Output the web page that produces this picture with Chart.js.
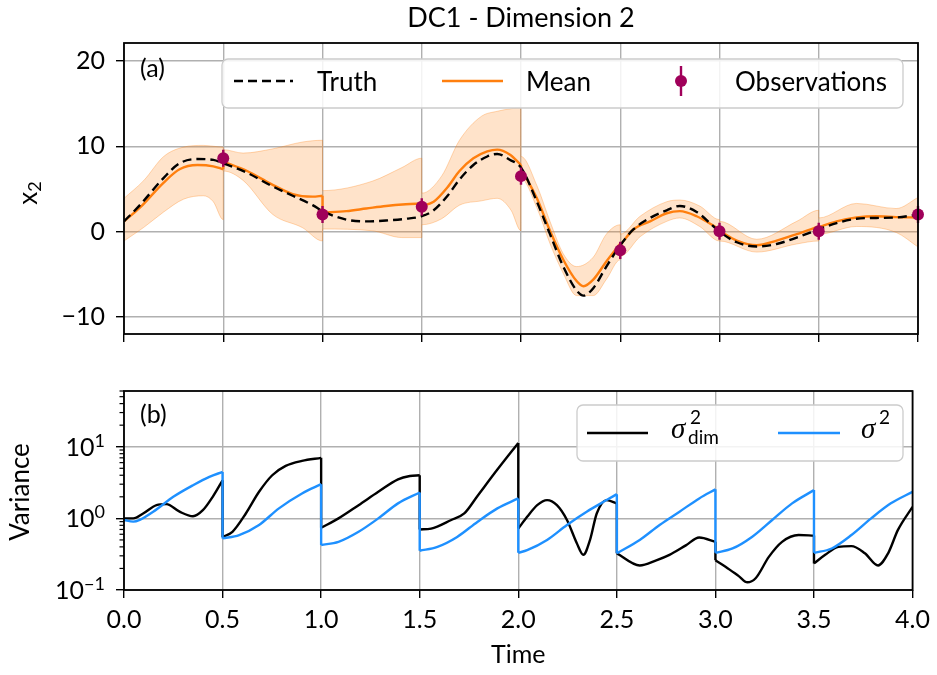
<!DOCTYPE html>
<html>
<head>
<meta charset="utf-8">
<script src="https://cdn.jsdelivr.net/npm/chart.js@4"></script>
<style>
  body { margin: 0; background: #fff; }
  #wrap { position: relative; width: 937px; height: 675px; background: #fff; }
  canvas { position: absolute; left: 0; }
</style>
</head>
<body>
<div id="wrap">
  <canvas id="topChart" width="937" height="360" style="top:0"></canvas>
  <canvas id="bottomChart" width="937" height="315" style="top:360px"></canvas>
</div>
<script>
// ---- panel (a): state x2 ----
const truthTime = [0, 0.08, 0.2, 0.28, 0.37, 0.45, 0.5, 0.62, 0.74, 0.85, 0.95, 1.0, 1.12, 1.22, 1.32, 1.42, 1.5,
  1.56, 1.63, 1.69, 1.76, 1.83, 1.88, 1.945, 2.0, 2.08, 2.146, 2.213, 2.28, 2.315, 2.365, 2.43, 2.5,
  2.566, 2.65, 2.734, 2.8, 2.885, 3.0, 3.087, 3.187, 3.288, 3.389, 3.5, 3.59, 3.69, 3.79, 3.89, 4.0];
const truthValues = [1.2, 3.1, 6.3, 8.0, 8.5, 8.4, 8.0, 6.9, 5.4, 4.2, 3.1, 2.4, 1.4, 1.2, 1.3, 1.5, 1.8,
  2.5, 4.2, 6.1, 7.8, 8.8, 9.1, 8.4, 7.5, 3.5, -0.3, -4.1, -6.9, -7.5, -6.6, -4.1, -1.6,
  0.25, 1.6, 2.5, 3.0, 2.3, 0.0, -1.25, -1.75, -1.45, -0.7, 0.26, 1.0, 1.5, 1.6, 1.65, 2.0];

// repeated times mark the analysis jumps
const meanTime = [0, 0.08, 0.2, 0.28, 0.37, 0.45, 0.5, 0.5, 0.62, 0.74, 0.85, 0.95, 1.0, 1.0, 1.12, 1.22, 1.32, 1.42, 1.5,
  1.5, 1.56, 1.63, 1.69, 1.76, 1.83, 1.88, 1.945, 2.0, 2.0, 2.08, 2.146, 2.213, 2.28, 2.315, 2.365, 2.43, 2.5,
  2.5, 2.566, 2.65, 2.734, 2.8, 2.885, 3.0, 3.0, 3.087, 3.187, 3.288, 3.389, 3.5, 3.5, 3.59, 3.69, 3.79, 3.89, 4.0];
const meanValues = [1.2, 2.8, 5.75, 7.3, 7.8, 7.65, 7.3, 8.2, 7.1, 5.6, 4.4, 4.1, 4.2, 2.2, 2.4, 2.7, 3.0, 3.2, 3.3,
  3.0, 3.5, 5.2, 7.1, 8.6, 9.4, 9.6, 9.0, 7.8, 7.4, 3.9, 0.1, -3.3, -5.8, -6.4, -5.6, -3.5, -1.4,
  -1.6, 0.25, 1.2, 2.15, 2.4, 1.8, 0.25, 0.1, -1.05, -1.6, -1.05, -0.3, 0.6, 0.5, 1.2, 1.65, 1.8, 1.7, 1.65];

const obsTime = [0.5, 1.0, 1.5, 2.0, 2.5, 3.0, 3.5, 4.0];
const obsValues = [8.6, 2.0, 2.9, 6.5, -2.2, 0.05, 0.05, 2.0];
const obsError = [1, 1, 1, 1, 1, 1, 1, 1];

const bandTime = [0, 0.1, 0.2, 0.3, 0.4, 0.45, 0.5, 0.5, 0.6, 0.75, 0.9, 1.0, 1.0, 1.25, 1.4, 1.5,
  1.5, 1.6, 1.69, 1.8, 1.88, 1.95, 2.0, 2.0, 2.08, 2.146, 2.213, 2.28, 2.364, 2.43, 2.5,
  2.5, 2.6, 2.734, 2.8, 2.9, 3.0, 3.0, 3.187, 3.389, 3.5, 3.5, 3.69, 3.89, 4.0];
const bandUpper = [3.9, 6.0, 8.8, 9.9, 10.1, 10.0, 9.9, 9.6, 9.2, 9.7, 10.5, 10.7, 4.8, 5.9, 7.5, 8.6,
  4.5, 6.5, 10.7, 13.5, 14.1, 14.4, 14.5, 8.8, 5.4, 1.2, -2.6, -4.1, -3.0, -0.3, 0.8,
  -0.3, 1.8, 3.5, 3.7, 3.0, 1.4, 1.2, -0.9, 1.2, 2.5, 1.6, 3.3, 2.7, 4.0];
const bandLower = [-1.1, 0.5, 2.3, 3.8, 4.2, 3.5, 1.4, 7.1, 6.0, 2.0, 0.45, -1.1, 0.3, 0.1, -0.7, -0.7,
  0.8, 1.5, 3.1, 3.6, 3.9, 2.5, 0.1, 6.2, 2.8, -1.4, -4.9, -7.5, -7.5, -5.6, -3.3,
  -2.9, -0.6, 1.2, 1.6, 0.6, -1.1, -1.1, -2.4, -1.45, -1.1, -0.3, 0.6, -0.1, -1.8];

const xTicks = [0, 0.5, 1.0, 1.5, 2.0, 2.5, 3.0, 3.5, 4.0];
const topYTicks = [-10, 0, 10, 20];

// ---- panel (b): variances ----
const dimTime = [0, 0.047, 0.097, 0.165, 0.215, 0.282, 0.35, 0.4, 0.45, 0.5,
  0.5, 0.55, 0.618, 0.685, 0.752, 0.82, 0.903, 1.0,
  1.0, 1.088, 1.19, 1.29, 1.39, 1.45, 1.5,
  1.5, 1.558, 1.66, 1.726, 1.794, 1.894, 2.0,
  2.0, 2.045, 2.096, 2.146, 2.196, 2.247, 2.297, 2.33, 2.364, 2.398, 2.448, 2.5,
  2.5, 2.616, 2.7, 2.767, 2.85, 2.918, 3.0,
  3.0, 3.053, 3.12, 3.162, 3.204, 3.271, 3.338, 3.422, 3.5,
  3.5, 3.557, 3.624, 3.69, 3.758, 3.825, 3.876, 3.926, 4.0];
const dimVar = [1.0, 1.0, 1.17, 1.53, 1.58, 1.24, 1.07, 1.3, 2.0, 3.4,
  0.55, 0.65, 1.17, 2.35, 4.0, 5.4, 6.35, 7.0,
  0.74, 1.0, 1.53, 2.35, 3.5, 3.9, 4.0,
  0.70, 0.72, 0.95, 1.17, 2.07, 4.8, 11.3,
  0.72, 1.05, 1.53, 1.8, 1.53, 0.95, 0.45, 0.31, 0.5, 1.17, 1.8, 1.62,
  0.325, 0.22, 0.26, 0.31, 0.42, 0.54, 0.47,
  0.26, 0.21, 0.155, 0.128, 0.146, 0.29, 0.47, 0.585, 0.575,
  0.235, 0.31, 0.40, 0.41, 0.325, 0.22, 0.325, 0.69, 1.45];

const sigTime = [0, 0.047, 0.148, 0.25, 0.35, 0.433, 0.5,
  0.5, 0.584, 0.685, 0.786, 0.903, 1.0,
  1.0, 1.088, 1.19, 1.29, 1.39, 1.5,
  1.5, 1.59, 1.69, 1.794, 1.894, 2.0,
  2.0, 2.045, 2.146, 2.247, 2.347, 2.448, 2.5,
  2.5, 2.616, 2.717, 2.818, 2.918, 3.0,
  3.0, 3.087, 3.187, 3.288, 3.389, 3.5,
  3.5, 3.59, 3.69, 3.79, 3.89, 4.0];
const sigVar = [0.95, 0.9, 1.24, 2.0, 2.9, 3.8, 4.45,
  0.525, 0.585, 0.81, 1.38, 2.23, 3.0,
  0.425, 0.47, 0.65, 1.0, 1.62, 2.3,
  0.353, 0.40, 0.55, 0.9, 1.38, 1.9,
  0.33, 0.36, 0.5, 0.81, 1.24, 1.8, 2.18,
  0.325, 0.5, 0.81, 1.24, 1.9, 2.54,
  0.33, 0.38, 0.555, 0.95, 1.62, 2.48,
  0.33, 0.38, 0.585, 1.0, 1.62, 2.35];

const varTicks = [0.1, 1, 10];

const ORANGE = '#ff7f0e';
const PEACH = 'rgba(255,127,14,0.22)';
const PEACH_EDGE = 'rgba(255,127,14,0.3)';
const PURPLE = '#a0005a';
const BLUE = '#1e90ff';
const GRID = '#b0b0b0';
const FONT = 'Lato';

Chart.defaults.font.family = FONT;
Chart.defaults.color = '#000';

// split a series at repeated times: smooth pieces + vertical jump segments
function splitAtJumps(times, values) {
  const line = [], jumps = [];
  for (let i = 0; i < times.length; i++) {
    if (i > 0 && times[i] === times[i - 1]) {
      line.push({ x: times[i], y: null });
      jumps.push({ x: times[i], y: values[i - 1] }, { x: times[i], y: values[i] }, { x: times[i], y: null });
    }
    line.push({ x: times[i], y: values[i] });
  }
  return { line, jumps };
}

const pts = (t, v) => t.map((x, i) => ({ x, y: v[i] }));

function spines(chart) {
  const a = chart.chartArea, c = chart.ctx;
  c.save();
  c.strokeStyle = '#000';
  c.lineWidth = 1.8;
  c.strokeRect(a.left, a.top, a.right - a.left, a.bottom - a.top);
  c.restore();
}

function legendBox(c, x, y, w, h) {
  c.save();
  c.beginPath();
  c.roundRect(x, y, w, h, 6);
  c.fillStyle = 'rgba(255,255,255,0.85)';
  c.fill();
  c.strokeStyle = '#cccccc';
  c.lineWidth = 1.3;
  c.stroke();
  c.restore();
}

function hline(c, x1, x2, y, color, dash) {
  c.save();
  c.strokeStyle = color;
  c.lineWidth = 2.4;
  c.setLineDash(dash || []);
  c.beginPath();
  c.moveTo(x1, y);
  c.lineTo(x2, y);
  c.stroke();
  c.restore();
}

function rotatedText(c, parts, cx, cy) {
  // parts: [{text, font, dy}]
  c.save();
  c.translate(cx, cy);
  c.rotate(-Math.PI / 2);
  c.textBaseline = 'middle';
  c.fillStyle = '#000';
  let w = 0;
  parts.forEach(p => { c.font = p.font; p.w = c.measureText(p.text).width; w += p.w; });
  let x = -w / 2;
  parts.forEach(p => { c.font = p.font; c.fillText(p.text, x, p.dy || 0); x += p.w; });
  c.restore();
}

const topDecor = {
  id: 'topDecor',
  afterDraw(chart) {
    const c = chart.ctx;
    spines(chart);
    c.save();
    c.fillStyle = '#000';
    c.font = '27px ' + FONT;
    c.textAlign = 'center';
    c.textBaseline = 'middle';
    c.fillText('DC1 - Dimension 2', (chart.chartArea.left + chart.chartArea.right) / 2, 18);
    c.font = '25px ' + FONT;
    c.textAlign = 'left';
    c.fillText('(a)', 140, 69);
    c.restore();
    rotatedText(c, [{ text: 'x', font: '26px ' + FONT }, { text: '2', font: '18px ' + FONT, dy: 6 }], 29, 193);

    // legend
    legendBox(c, 222, 59, 681, 49);
    hline(c, 234, 293, 81, '#000', [9, 5]);
    hline(c, 442, 503, 81, ORANGE);
    c.save();
    c.strokeStyle = PURPLE;
    c.lineWidth = 2.4;
    c.beginPath();
    c.moveTo(681, 66);
    c.lineTo(681, 96);
    c.stroke();
    c.fillStyle = PURPLE;
    c.beginPath();
    c.arc(681, 81, 6, 0, Math.PI * 2);
    c.fill();
    c.fillStyle = '#000';
    c.font = '26px ' + FONT;
    c.textBaseline = 'alphabetic';
    c.fillText('Truth', 317, 91);
    c.fillText('Mean', 526, 91);
    c.fillText('Observations', 735, 91);
    c.restore();
  }
};

const isMajor = v => Math.abs(Math.log10(v) - Math.round(Math.log10(v))) < 1e-9;

const bottomDecor = {
  id: 'bottomDecor',
  afterDraw(chart) {
    const c = chart.ctx, a = chart.chartArea, ys = chart.scales.y;
    spines(chart);
    c.save();
    // minor ticks
    c.strokeStyle = '#000';
    c.lineWidth = 1.2;
    ys.ticks.forEach(t => {
      if (isMajor(t.value)) return;
      const py = ys.getPixelForValue(t.value);
      c.beginPath();
      c.moveTo(a.left - 4.5, py);
      c.lineTo(a.left, py);
      c.stroke();
    });
    // major labels 10^n
    c.fillStyle = '#000';
    varTicks.forEach(v => {
      const py = ys.getPixelForValue(v);
      const e = String(Math.round(Math.log10(v))).replace('-', '\u2212');
      c.font = '18px ' + FONT;
      const ew = c.measureText(e).width;
      c.textAlign = 'left';
      c.textBaseline = 'alphabetic';
      c.fillText(e, 105 - ew, py);
      c.font = '25px ' + FONT;
      c.textAlign = 'right';
      c.fillText('10', 105 - ew, py + 9);
    });
    c.textAlign = 'left';
    c.textBaseline = 'middle';
    c.font = '25px ' + FONT;
    c.fillText('(b)', 140, 55);
    c.textAlign = 'center';
    c.fillText('Time', (a.left + a.right) / 2, 295);
    c.restore();
    rotatedText(c, [{ text: 'Variance', font: '26px ' + FONT }], 21, 132);

    // legend
    legendBox(c, 577, 45, 326, 56);
    hline(c, 587, 648, 73, '#000');
    hline(c, 778, 840, 73, BLUE);
    c.save();
    c.fillStyle = '#000';
    c.textBaseline = 'alphabetic';
    c.textAlign = 'left';
    c.font = 'italic 29px "Liberation Serif"';
    c.fillText('\u03c3', 671, 78);
    c.fillText('\u03c3', 861, 78);
    c.font = '19px ' + FONT;
    c.fillText('2', 690, 64);
    c.fillText('dim', 688, 84);
    c.fillText('2', 879, 64);
    c.restore();
  }
};

const gridBase = { color: GRID, lineWidth: 1.4, tickColor: '#000', tickLength: 8, tickWidth: 1.4 };

// ---------- top chart ----------
const meanSplit = splitAtJumps(meanTime, meanValues);
const obsBars = [];
obsTime.forEach((t, i) => {
  obsBars.push({ x: t, y: obsValues[i] - obsError[i] }, { x: t, y: obsValues[i] + obsError[i] }, { x: t, y: null });
});

new Chart(document.getElementById('topChart'), {
  type: 'line',
  data: {
    datasets: [
      { label: 'Observations', data: pts(obsTime, obsValues), showLine: false, pointRadius: 6,
        pointBackgroundColor: PURPLE, pointBorderWidth: 0, clip: false },
      { label: 'obs error', data: obsBars, borderColor: PURPLE, borderWidth: 2.4, pointRadius: 0, spanGaps: false, clip: false },
      { label: 'Truth', data: pts(truthTime, truthValues), borderColor: '#000', borderWidth: 2.4,
        borderDash: [9, 5], pointRadius: 0, cubicInterpolationMode: 'monotone' },
      { label: 'Mean', data: meanSplit.line, borderColor: ORANGE, borderWidth: 2.4, pointRadius: 0,
        cubicInterpolationMode: 'monotone', spanGaps: false },
      { label: 'Mean jumps', data: meanSplit.jumps, borderColor: ORANGE, borderWidth: 2.4, pointRadius: 0, spanGaps: false },
      { label: 'Ensemble upper', data: pts(bandTime, bandUpper), borderColor: PEACH_EDGE, borderWidth: 1,
        backgroundColor: PEACH, fill: '+1', pointRadius: 0, cubicInterpolationMode: 'monotone' },
      { label: 'Ensemble lower', data: pts(bandTime, bandLower), borderColor: PEACH_EDGE, borderWidth: 1,
        pointRadius: 0, cubicInterpolationMode: 'monotone' }
    ]
  },
  options: {
    responsive: false,
    animation: false,
    layout: { padding: { left: 0, right: 19, top: 43, bottom: 0 } },
    plugins: { legend: { display: false }, tooltip: { enabled: false } },
    scales: {
      x: {
        type: 'linear', min: 0, max: 4,
        afterBuildTicks: s => { s.ticks = xTicks.map(v => ({ value: v })); },
        afterFit: s => { s.height = 17; },
        ticks: { display: false },
        grid: gridBase,
        border: { display: false }
      },
      y: {
        min: -12, max: 22.1,
        afterBuildTicks: s => { s.ticks = topYTicks.map(v => ({ value: v })); },
        afterFit: s => { s.width = 124; },
        ticks: { font: { size: 25 }, padding: 11, callback: v => (v < 0 ? '\u2212' + Math.abs(v) : String(v)) },
        grid: gridBase,
        border: { display: false }
      }
    }
  },
  plugins: [topDecor]
});

// ---------- bottom chart ----------
const dimSplit = splitAtJumps(dimTime, dimVar);
const sigSplit = splitAtJumps(sigTime, sigVar);

new Chart(document.getElementById('bottomChart'), {
  type: 'line',
  data: {
    datasets: [
      { label: 'sigma2', data: sigSplit.line, borderColor: BLUE, borderWidth: 2.4, pointRadius: 0,
        cubicInterpolationMode: 'monotone', spanGaps: false },
      { label: 'sigma2 jumps', data: sigSplit.jumps, borderColor: BLUE, borderWidth: 2.4, pointRadius: 0, spanGaps: false },
      { label: 'sigma2 dim', data: dimSplit.line, borderColor: '#000', borderWidth: 2.4, pointRadius: 0,
        cubicInterpolationMode: 'monotone', spanGaps: false },
      { label: 'sigma2 dim jumps', data: dimSplit.jumps, borderColor: '#000', borderWidth: 2.4, pointRadius: 0, spanGaps: false }
    ]
  },
  options: {
    responsive: false,
    animation: false,
    layout: { padding: { left: 0, right: 19, top: 31, bottom: 0 } },
    plugins: { legend: { display: false }, tooltip: { enabled: false } },
    scales: {
      x: {
        type: 'linear', min: 0, max: 4,
        afterBuildTicks: s => { s.ticks = xTicks.map(v => ({ value: v })); },
        afterFit: s => { s.height = 85; },
        ticks: { font: { size: 25 }, padding: 7, callback: v => v.toFixed(1) },
        grid: gridBase,
        border: { display: false }
      },
      y: {
        type: 'logarithmic', min: 0.1, max: 60,
        afterBuildTicks: s => {
          const list = [];
          varTicks.forEach(base => {
            for (let m = 1; m <= 9; m++) {
              const v = m * base;
              if (v <= 60) list.push({ value: v, major: m === 1 });
            }
          });
          s.ticks = list;
        },
        afterFit: s => { s.width = 124; },
        ticks: { display: false },
        grid: {
          lineWidth: 1.4, tickLength: 8, tickWidth: 1.4,
          color: c => (c.tick && isMajor(c.tick.value) ? GRID : 'rgba(0,0,0,0)'),
          tickColor: c => (c.tick && isMajor(c.tick.value) ? '#000' : 'rgba(0,0,0,0)')
        },
        border: { display: false }
      }
    }
  },
  plugins: [bottomDecor]
});
</script>
</body>
</html>
